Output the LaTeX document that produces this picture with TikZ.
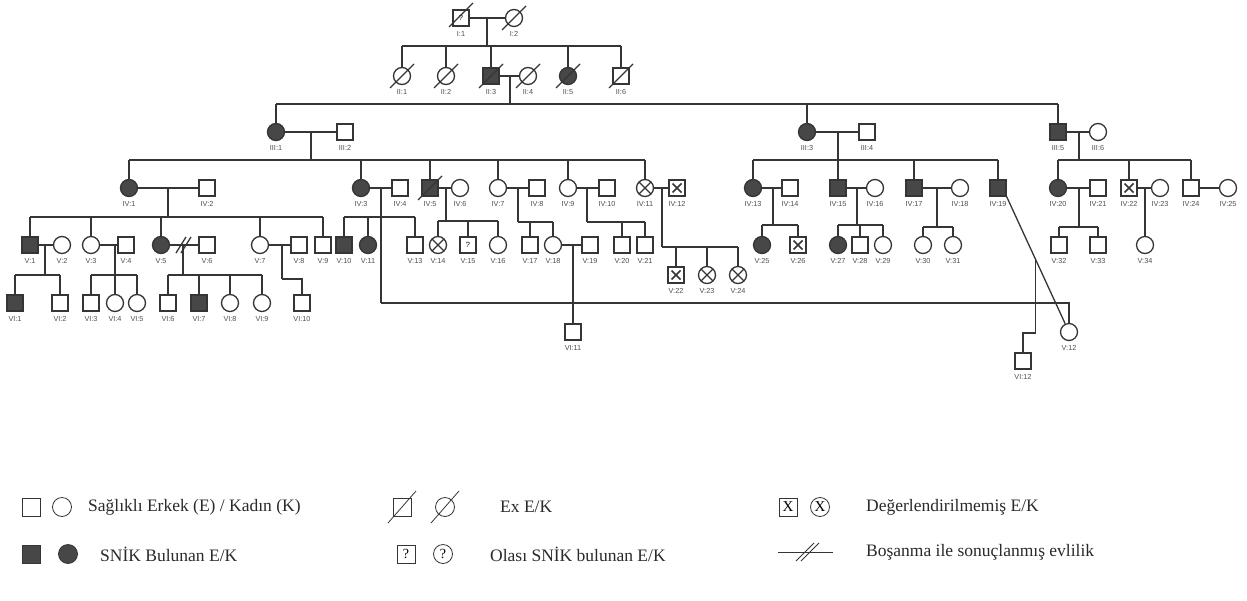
\documentclass[tikz,border=0pt]{standalone}
\usepackage{fontspec}
\setmainfont{Liberation Serif}
\newfontfamily\labfont{Liberation Sans}
\usetikzlibrary{calc}
\definecolor{linec}{HTML}{353535}
\definecolor{fillc}{HTML}{474747}
\definecolor{labc}{HTML}{505050}
\definecolor{legc}{HTML}{2A2A2A}
\tikzset{
  ln/.style={draw=linec, line width=1.3pt},
  male/.style={draw=linec, line width=1.3pt, rectangle, minimum size=16pt, inner sep=0pt, fill=white, font=\labfont\fontsize{7.5}{8}\selectfont},
  female/.style={draw=linec, line width=1.3pt, circle, minimum size=17pt, inner sep=0pt, fill=white},
  aff/.style={fill=fillc},
  lab/.style={font=\labfont\fontsize{7.3}{8}\selectfont, text=labc, inner sep=0pt},
  legsym/.style={line width=0.8pt, draw=linec},
  leg/.style={font=\fontsize{17.5}{19}\selectfont, text=legc, inner sep=0pt, anchor=west},
}
\newcommand\per[6][]{\node[#2] (#3) at (#4,#5) {#1}; \node[lab] (#3l) at (#4,#5+16) {#6};}
\newcommand\dec[1]{\draw[ln] ($(#1)+(-12,12)$) -- ($(#1)+(12,-12)$);}
\newcommand\cx[1]{\draw[ln] ($(#1)+(-6,-6)$) -- ($(#1)+(6,6)$) ($(#1)+(-6,6)$) -- ($(#1)+(6,-6)$);}
\newcommand\sx[1]{\draw[ln, line width=1.6pt] ($(#1)+(-4.5,-4.5)$) -- ($(#1)+(4.5,4.5)$) ($(#1)+(-4.5,4.5)$) -- ($(#1)+(4.5,-4.5)$);}
\newcommand\drops[2]{\foreach \k in {#2} {\draw[ln] (\k.north) -- (\k.north |- #1);}}
\begin{document}
\begin{tikzpicture}[x=1pt,y=-1pt]
\useasboundingbox[fill=white] (0,0) rectangle (1247,600);
% ---------- Generation I
\per[?]{male}{I1}{461}{18}{I:1}
\per{female}{I2}{514}{18}{I:2}
\draw[ln] ($(I1)+(-12,9)$) -- ($(I1)+(12,-15)$);
\dec{I2}
\draw[ln] (I1) -- (I2);
\coordinate (cI) at (487,18); \coordinate (sI) at (487,46);
\draw[ln] (cI) -- (sI);
% ---------- Generation II
\per{female}{II1}{402}{76}{II:1}
\per{female}{II2}{446}{76}{II:2}
\per{male,aff}{II3}{491}{76}{II:3}
\per{female}{II4}{528}{76}{II:4}
\per{female,aff}{II5}{568}{76}{II:5}
\per{male}{II6}{621}{76}{II:6}
\foreach \k in {II1,II2,II3,II4,II5,II6} {\dec{\k}}
\draw[ln] (II1.north |- sI) -- (II6.north |- sI);
\drops{sI}{II1,II2,II3,II5,II6}
\draw[ln] (II3) -- (II4);
\coordinate (cII) at (510,76); \coordinate (sII) at (510,104);
\draw[ln] (cII) -- (sII);
% ---------- Generation III
\per{female,aff}{III1}{276}{132}{III:1}
\per{male}{III2}{345}{132}{III:2}
\per{female,aff}{III3}{807}{132}{III:3}
\per{male}{III4}{867}{132}{III:4}
\per{male,aff}{III5}{1058}{132}{III:5}
\per{female}{III6}{1098}{132}{III:6}
\draw[ln] (III1.north |- sII) -- (III5.north |- sII);
\drops{sII}{III1,III3,III5}
\draw[ln] (III1) -- (III2); \draw[ln] (III3) -- (III4); \draw[ln] (III5) -- (III6);
\coordinate (cA) at (311,132); \coordinate (sA) at (311,160); \draw[ln] (cA) -- (sA);
\coordinate (cB) at (838,132); \coordinate (sB) at (838,160); \draw[ln] (cB) -- (sB);
\coordinate (cC) at (1079,132); \coordinate (sC) at (1079,160); \draw[ln] (cC) -- (sC);
% ---------- Generation IV
\per{female,aff}{IV1}{129}{188}{IV:1}
\per{male}{IV2}{207}{188}{IV:2}
\per{female,aff}{IV3}{361}{188}{IV:3}
\per{male}{IV4}{400}{188}{IV:4}
\per{male,aff}{IV5}{430}{188}{IV:5}
\per{female}{IV6}{460}{188}{IV:6}
\per{female}{IV7}{498}{188}{IV:7}
\per{male}{IV8}{537}{188}{IV:8}
\per{female}{IV9}{568}{188}{IV:9}
\per{male}{IV10}{607}{188}{IV:10}
\per{female}{IV11}{645}{188}{IV:11}
\per{male}{IV12}{677}{188}{IV:12}
\per{female,aff}{IV13}{753}{188}{IV:13}
\per{male}{IV14}{790}{188}{IV:14}
\per{male,aff}{IV15}{838}{188}{IV:15}
\per{female}{IV16}{875}{188}{IV:16}
\per{male,aff}{IV17}{914}{188}{IV:17}
\per{female}{IV18}{960}{188}{IV:18}
\per{male,aff}{IV19}{998}{188}{IV:19}
\per{female,aff}{IV20}{1058}{188}{IV:20}
\per{male}{IV21}{1098}{188}{IV:21}
\per{male}{IV22}{1129}{188}{IV:22}
\per{female}{IV23}{1160}{188}{IV:23}
\per{male}{IV24}{1191}{188}{IV:24}
\per{female}{IV25}{1228}{188}{IV:25}
\dec{IV5}\cx{IV11}\sx{IV12}\sx{IV22}
\draw[ln] (IV1.north |- sA) -- (IV11.north |- sA);
\drops{sA}{IV1,IV3,IV5,IV7,IV9,IV11}
\draw[ln] (IV13.north |- sB) -- (IV19.north |- sB);
\drops{sB}{IV13,IV15,IV17,IV19}
\draw[ln] (IV20.north |- sC) -- (IV24.north |- sC);
\drops{sC}{IV20,IV22,IV24}
\foreach \a/\b in {IV1/IV2,IV3/IV4,IV5/IV6,IV7/IV8,IV9/IV10,IV11/IV12,IV13/IV14,IV15/IV16,IV17/IV18,IV20/IV21,IV22/IV23,IV24/IV25}
  {\draw[ln] (\a) -- (\b);}
% descents from gen IV couples
\coordinate (c1) at (168,188); \coordinate (s1) at (168,217); \draw[ln] (c1) -- (s1);
\coordinate (c3) at (381,188); \coordinate (s3) at (381,217); \coordinate (t3) at (381,303);
\draw[ln] (c3) -- (t3);
\coordinate (c5) at (446,188); \coordinate (s5) at (446,221); \draw[ln] (c5) -- (s5);
\coordinate (c7) at (518,188); \coordinate (s7) at (518,222); \draw[ln] (c7) -- (s7);
\coordinate (c9) at (587,188); \coordinate (s9) at (587,222); \draw[ln] (c9) -- (s9);
\coordinate (c11) at (662,188); \coordinate (s11) at (662,247); \draw[ln] (c11) -- (s11);
\coordinate (c13) at (773,188); \coordinate (s13) at (773,225); \draw[ln] (c13) -- (s13);
\coordinate (c15) at (857,188); \coordinate (s15) at (857,225); \draw[ln] (c15) -- (s15);
\coordinate (c17) at (937,188); \coordinate (s17) at (937,227); \draw[ln] (c17) -- (s17);
\coordinate (c20) at (1079,188); \coordinate (s20) at (1079,227); \draw[ln] (c20) -- (s20);
\coordinate (c22) at (1145,188);
% ---------- Generation V
\per{male,aff}{V1}{30}{245}{V:1}
\per{female}{V2}{62}{245}{V:2}
\per{female}{V3}{91}{245}{V:3}
\per{male}{V4}{126}{245}{V:4}
\per{female,aff}{V5}{161}{245}{V:5}
\per{male}{V6}{207}{245}{V:6}
\per{female}{V7}{260}{245}{V:7}
\per{male}{V8}{299}{245}{V:8}
\per{male}{V9}{323}{245}{V:9}
\per{male,aff}{V10}{344}{245}{V:10}
\per{female,aff}{V11}{368}{245}{V:11}
\per{male}{V13}{415}{245}{V:13}
\per{female}{V14}{438}{245}{V:14}
\per[?]{male}{V15}{468}{245}{V:15}
\per{female}{V16}{498}{245}{V:16}
\per{male}{V17}{530}{245}{V:17}
\per{female}{V18}{553}{245}{V:18}
\per{male}{V19}{590}{245}{V:19}
\per{male}{V20}{622}{245}{V:20}
\per{male}{V21}{645}{245}{V:21}
\per{male}{V22}{676}{275}{V:22}
\per{female}{V23}{707}{275}{V:23}
\per{female}{V24}{738}{275}{V:24}
\per{female,aff}{V25}{762}{245}{V:25}
\per{male}{V26}{798}{245}{V:26}
\per{female,aff}{V27}{838}{245}{V:27}
\per{male}{V28}{860}{245}{V:28}
\per{female}{V29}{883}{245}{V:29}
\per{female}{V30}{923}{245}{V:30}
\per{female}{V31}{953}{245}{V:31}
\per{male}{V32}{1059}{245}{V:32}
\per{male}{V33}{1098}{245}{V:33}
\per{female}{V34}{1145}{245}{V:34}
\per{female}{V12}{1069}{332}{V:12}
\cx{V14}\sx{V22}\cx{V23}\cx{V24}\sx{V26}
% sibships of gen V
\draw[ln] (V1.north |- s1) -- (V9.north |- s1); \drops{s1}{V1,V3,V5,V7,V9}
\draw[ln] (V10.north |- s3) -- (V13.north |- s3); \drops{s3}{V10,V11,V13}
\draw[ln] (t3) -- (V12.north |- t3) -- (V12.north);
\draw[ln] (V14.north |- s5) -- (V16.north |- s5); \drops{s5}{V14,V15,V16}
\draw[ln] (s7) -- (V18.north |- s7); \drops{s7}{V17,V18}
\draw[ln] (s9) -- (V21.north |- s9); \drops{s9}{V20,V21}
\draw[ln] (s11) -- (V24.north |- s11); \drops{s11}{V22,V23,V24}
\draw[ln] (V25.north |- s13) -- (V26.north |- s13); \drops{s13}{V25,V26}
\draw[ln] (V27.north |- s15) -- (V29.north |- s15); \drops{s15}{V27,V28,V29}
\draw[ln] (V30.north |- s17) -- (V31.north |- s17); \drops{s17}{V30,V31}
\draw[ln] (V32.north |- s20) -- (V33.north |- s20); \drops{s20}{V32,V33}
\draw[ln] (c22) -- (V34.north);
% consanguineous diagonal IV:19 -- V:12
\draw[ln] (IV19.south east) -- (V12);
\coordinate (d) at ($(IV19.south east)!0.46!(V12.center)$);
% gen V couples
\foreach \a/\b in {V1/V2,V3/V4,V5/V6,V7/V8,V18/V19} {\draw[ln] (\a) -- (\b);}
\draw[ln] (176,253) -- (186,237) (181,253) -- (191,237);
\coordinate (e1) at (45,245); \coordinate (f1) at (45,275); \draw[ln] (e1) -- (f1);
\coordinate (e3) at (115,245); \coordinate (f3) at (115,275); \draw[ln] (e3) -- (f3);
\coordinate (e5) at (183,245); \coordinate (f5) at (183,275); \draw[ln] (e5) -- (f5);
\coordinate (e7) at (282,245); \coordinate (f7) at (282,279); \draw[ln] (e7) -- (f7);
\coordinate (e18) at (573,245);
% ---------- Generation VI
\per{male,aff}{VI1}{15}{303}{VI:1}
\per{male}{VI2}{60}{303}{VI:2}
\per{male}{VI3}{91}{303}{VI:3}
\per{female}{VI4}{115}{303}{VI:4}
\per{female}{VI5}{137}{303}{VI:5}
\per{male}{VI6}{168}{303}{VI:6}
\per{male,aff}{VI7}{199}{303}{VI:7}
\per{female}{VI8}{230}{303}{VI:8}
\per{female}{VI9}{262}{303}{VI:9}
\per{male}{VI10}{302}{303}{VI:10}
\per{male}{VI11}{573}{332}{VI:11}
\per{male}{VI12}{1023}{361}{VI:12}
\draw[ln] (VI1.north |- f1) -- (VI2.north |- f1); \drops{f1}{VI1,VI2}
\draw[ln] (VI3.north |- f3) -- (VI5.north |- f3); \drops{f3}{VI3,VI4,VI5}
\draw[ln] (VI6.north |- f5) -- (VI9.north |- f5); \drops{f5}{VI6,VI7,VI8,VI9}
\draw[ln] (f7) -- (VI10.north |- f7) -- (VI10.north);
\draw[ln] (e18) -- (VI11.north);
\coordinate (g12) at (1035,333);
\draw[ln] (d) -- (d |- g12) -- (VI12.north |- g12) -- (VI12.north);
% ---------- Legend
\node[male, legsym, minimum size=18pt] (Lm) at (31,507) {};
\node[female, legsym, minimum size=19pt] (Lf) at (62,507) {};
\node[leg] (Lt1) at (88,507) {Sağlıklı Erkek (E) / Kadın (K)};
\node[male, legsym, minimum size=18pt] (Lem) at (402,507) {};
\node[female, legsym, minimum size=19pt] (Lef) at (445,507) {};
\draw[legsym] ($(Lem)+(-14,16)$) -- ($(Lem)+(14,-16)$);
\draw[legsym] ($(Lef)+(-14,16)$) -- ($(Lef)+(14,-16)$);
\node[leg] (Lt2) at (500,507) {Ex E/K};
\node[male, legsym, minimum size=18pt, font=\fontsize{15}{15}\selectfont] (Lum) at (788,507) {X};
\node[female, legsym, minimum size=19pt, font=\fontsize{15}{15}\selectfont] (Luf) at (820,507) {X};
\node[leg] (Lt3) at (866,507) {Değerlendirilmemiş E/K};
\node[male, legsym, aff, minimum size=18pt] (Lam) at (31,554) {};
\node[female, legsym, aff, minimum size=19pt] (Laf) at (68,554) {};
\node[leg] (Lt4) at (100,554) {SNİK Bulunan E/K};
\node[male, legsym, minimum size=18pt, font=\fontsize{14}{14}\selectfont] (Lqm) at (406,554) {?};
\node[female, legsym, minimum size=19pt, font=\fontsize{14}{14}\selectfont] (Lqf) at (443,554) {?};
\node[leg] (Lt5) at (490,554) {Olası SNİK bulunan E/K};
\coordinate (Ld1) at (778,552); \coordinate (Ld2) at (833,552);
\draw[legsym] (Ld1) -- (Ld2);
\draw[legsym] (796,561) -- (814,543) (801,561) -- (819,543);
\node[leg] (Lt6) at (866,552) {Boşanma ile sonuçlanmış evlilik};
\end{tikzpicture}
\end{document}
